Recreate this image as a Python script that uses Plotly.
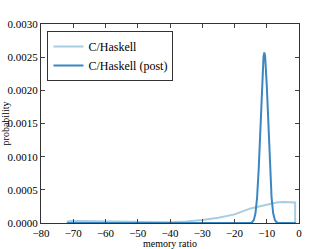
import plotly.graph_objects as go

# light curve: C/Haskell
x_light = [-72, -71, -68, -64, -60, -55, -50, -45, -40, -35, -30, -25, -20, -15, -10, -7, -5, -3, -1.2, -1.2]
y_light = [0.00002, 0.00003, 0.00003, 0.000028, 0.000024, 0.000016, 0.00001, 0.000008, 0.00001, 0.000022,
           0.000045, 0.00008, 0.00013, 0.00022, 0.00028, 0.00031, 0.000315, 0.000315, 0.00031, 0.0]

# dark curve: C/Haskell (post)
x_dark = [-72, -15, -14.5, -14, -13.5, -13, -12.5, -12, -11.5, -11, -10.75, -10.5, -10, -9.5, -9, -8.5,
          -8, -7.5, -7, -6.5, -1]
y_dark = [0.0, 0.0, 0.000013, 0.000047, 0.000147, 0.00038, 0.00081, 0.00142, 0.00208, 0.00251, 0.00257,
          0.00251, 0.00208, 0.00142, 0.00081, 0.00038, 0.000147, 0.000047, 0.000013, 0.0, 0.0]

x_ticks = [-80, -70, -60, -50, -40, -30, -20, -10, 0]
y_ticks = [0.0, 0.0005, 0.001, 0.0015, 0.002, 0.0025, 0.003]

fig = go.Figure()
fig.add_trace(go.Scatter(x=x_light, y=y_light, mode="lines", name="C/Haskell",
                         line=dict(color="#a6cee3", width=2)))
fig.add_trace(go.Scatter(x=x_dark, y=y_dark, mode="lines", name="C/Haskell (post)",
                         line=dict(color="#3a87c2", width=2)))

font = "Liberation Serif, serif"
tf = dict(family=font, size=11, color="black")
fig.update_layout(
    width=332, height=249,
    margin=dict(l=41, r=33, t=24, b=26),
    paper_bgcolor="white", plot_bgcolor="white",
    font=dict(family=font, size=11, color="black"),
    showlegend=True,
    legend=dict(x=0.025, y=0.965, xanchor="left", yanchor="top",
                bgcolor="white", bordercolor="#333", borderwidth=1,
                font=dict(family=font, size=12, color="black"), itemwidth=30,
                tracegroupgap=0),
    xaxis=dict(range=[-80, 0], tickvals=x_ticks, ticks="inside", ticklen=4, tickfont=tf,
               showline=True, linecolor="#333", linewidth=1, mirror="ticks",
               showgrid=False, zeroline=False, automargin=False,
               title=dict(text="memory ratio", font=dict(family=font, size=10))),
    yaxis=dict(range=[0, 0.003], tickvals=y_ticks, tickformat=".4f", ticks="inside", ticklen=4,
               tickfont=tf,
               showline=True, linecolor="#333", linewidth=1, mirror="ticks",
               showgrid=False, zeroline=False, automargin=False,
               title=dict(text="probability", font=dict(family=font, size=10))),
)
fig.write_html("out.html", config={"displayModeBar": False},
               post_script="document.body.style.margin='0';")
